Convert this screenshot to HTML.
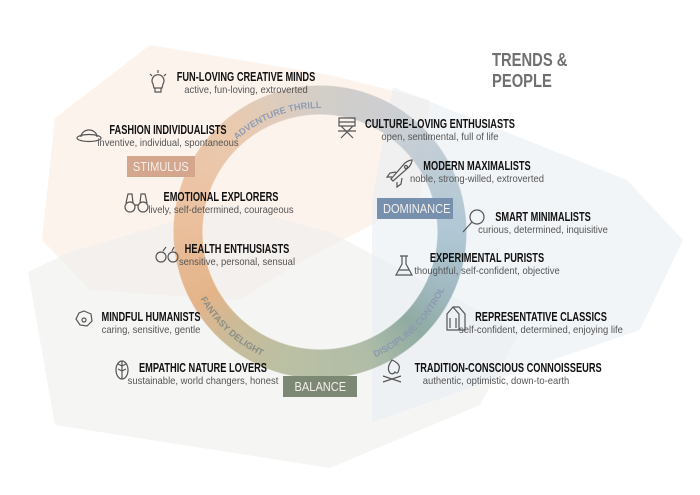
<!DOCTYPE html>
<html><head><meta charset="utf-8"><style>
*{margin:0;padding:0;box-sizing:border-box}
body{width:700px;height:495px;background:#fff;position:relative;overflow:hidden;font-family:"Liberation Sans",sans-serif}
.it{position:absolute;width:220px;text-align:center}
.t{font-weight:bold;font-size:12.5px;color:#111;line-height:13px;white-space:nowrap;transform:scaleX(0.74)}
.s{font-size:10.5px;color:#555;line-height:13px;white-space:nowrap;transform:scaleX(0.9)}
.box{position:absolute;color:#f4f0ec;font-size:13px;text-align:center;line-height:21px;height:21px}
.box span{display:inline-block;transform:scaleX(0.85)}
.ring{position:absolute;left:173px;top:85px;width:294px;height:294px;border-radius:50%;
background:conic-gradient(from 0deg,#cfcac4 0deg,#c5ccd2 40deg,#aac3d2 90deg,#98b3bc 115deg,#86a49a 135deg,#aab8a0 160deg,#b5bb9c 195deg,#c7b58f 222deg,#e3ae7e 240deg,#ebbf9c 285deg,#e8c6a9 320deg,#cfcac4 360deg);
-webkit-mask:radial-gradient(circle,transparent 117px,#000 118px,#000 146px,transparent 147px);mask:radial-gradient(circle,transparent 117px,#000 118px,#000 146px,transparent 147px);opacity:0.9}
</style></head><body>
<svg style="position:absolute;left:0;top:0" width="700" height="495">
<polygon points="150,45 330,75 430,100 420,200 300,262 240,300 90,290 42,240 55,118" fill="#fcf0e9" opacity="0.8"/>
<polygon points="70,252 230,205 330,232 520,332 480,405 330,468 55,425 28,272" fill="#efefec" opacity="0.6"/>
<polygon points="393,87 627,180 683,240 640,330 372,422 372,200" fill="#e9eef4" opacity="0.6"/>
</svg>
<div class="ring"></div>
<svg style="position:absolute;left:0;top:0" width="700" height="495" font-family="Liberation Sans, sans-serif" font-size="9.2" font-weight="bold">
<defs>
<path id="a1" d="M 225 152.3 A 124 124 0 0 1 362.4 115.5"/>
<path id="a2" d="M 191.3 278.9 A 137 137 0 0 0 296.2 366.9"/>
<path id="a3" d="M 343.8 366.9 A 137 137 0 0 0 452.3 267.5"/>
</defs>
<text fill="#8e9cb4"><textPath href="#a1" startOffset="17">ADVENTURE THRILL</textPath></text>
<text fill="#8a8e86"><textPath href="#a2" startOffset="22">FANTASY DELIGHT</textPath></text>
<text fill="#8c9ab0"><textPath href="#a3" startOffset="33">DISCIPLINE CONTROL</textPath></text>
<g fill="none" stroke="#555" stroke-width="1.2">
<path d="M153 84 a6 6 0 1 1 10 0 l-1 4 h-8 z M155 88 v4 h6 v-4"/><path d="M158 70 v3 M150 74 l2 2 M166 74 l-2 2"/>
<ellipse cx="89" cy="138" rx="12" ry="3.5"/><path d="M81 137 a8 7 0 0 1 16 0"/>
<circle cx="130" cy="207" r="5"/><circle cx="143" cy="207" r="5"/><path d="M126 203 l2 -9 h4 l1 9 M140 203 l1 -9 h4 l2 9 M134 205 h5"/>
<circle cx="161" cy="257" r="5"/><circle cx="173" cy="257" r="5"/><path d="M163 251 l3 -4 M172 251 l2 -4"/>
<path d="M339 118 h16 v8 h-16 z M339 122 h16 M341 126 l12 12 M353 126 l-12 12 M338 131 h18"/>
<path d="M391 179 l14 -16 q4 -3 7 -3 q0 3 -3 7 l-16 14 z M396 172 l-6 1 -3 4 5 0 M402 178 l-1 6 -4 3 0 -5"/><circle cx="406" cy="167" r="1.5"/>
<circle cx="477" cy="217" r="7"/><path d="M472 222 l-9 10"/>
<path d="M402 256 v8 l-6 11 h16 l-6 -11 v-8 M400 256 h8 M399 270 h10"/>
<path d="M447 330 v-16 l6 -7 6 7 v16 z M453 307 l6 0 6 7 v16 h-6 M450 318 v10 M456 318 v10"/>
<path d="M392 360 q-6 8 -2 13 q3 2 5 -1 q3 3 4 -3 q2 -5 -7 -9 z M383 382 l18 -6 M383 376 l18 6"/>
<ellipse cx="122" cy="370" rx="6" ry="9"/><path d="M122 361 v18 M122 366 l-4 -2 M122 366 l4 -2 M122 371 l-4 -2 M122 371 l4 -2"/>
<path d="M84 311 l7 3 1 7 -5 5 -7 -1 -4 -6 3 -6 z"/><circle cx="84" cy="320" r="2"/>
</g>
</svg>
<div style="position:absolute;left:492px;top:50px;font-weight:bold;font-size:18px;line-height:21px;color:#707070;transform:scaleX(0.82);transform-origin:left top">TRENDS &amp;<br>PEOPLE</div>
<div class="box" style="left:127px;top:156px;width:68px;background:#d3a68d"><span>STIMULUS</span></div>
<div class="box" style="left:377px;top:198px;width:76px;background:#7790ae"><span>DOMINANCE</span></div>
<div class="box" style="left:283px;top:376px;width:74px;background:#7d8874"><span>BALANCE</span></div>

<div class="it" style="left:136px;top:71px"><div class="t">FUN-LOVING CREATIVE MINDS</div><div class="s">active, fun-loving, extroverted</div></div>
<div class="it" style="left:58px;top:124px"><div class="t">FASHION INDIVIDUALISTS</div><div class="s">inventive, individual, spontaneous</div></div>
<div class="it" style="left:111px;top:191px"><div class="t">EMOTIONAL EXPLORERS</div><div class="s">lively, self-determined, courageous</div></div>
<div class="it" style="left:127px;top:243px"><div class="t">HEALTH ENTHUSIASTS</div><div class="s">sensitive, personal, sensual</div></div>
<div class="it" style="left:330px;top:118px"><div class="t">CULTURE-LOVING ENTHUSIASTS</div><div class="s">open, sentimental, full of life</div></div>
<div class="it" style="left:367px;top:160px"><div class="t">MODERN MAXIMALISTS</div><div class="s">noble, strong-willed, extroverted</div></div>
<div class="it" style="left:433px;top:211px"><div class="t">SMART MINIMALISTS</div><div class="s">curious, determined, inquisitive</div></div>
<div class="it" style="left:377px;top:252px"><div class="t">EXPERIMENTAL PURISTS</div><div class="s">thoughtful, self-confident, objective</div></div>
<div class="it" style="left:41px;top:311px"><div class="t">MINDFUL HUMANISTS</div><div class="s">caring, sensitive, gentle</div></div>
<div class="it" style="left:431px;top:311px"><div class="t">REPRESENTATIVE CLASSICS</div><div class="s">self-confident, determined, enjoying life</div></div>
<div class="it" style="left:93px;top:362px"><div class="t">EMPATHIC NATURE LOVERS</div><div class="s">sustainable, world changers, honest</div></div>
<div class="it" style="left:386px;top:362px"><div class="t">TRADITION-CONSCIOUS CONNOISSEURS</div><div class="s">authentic, optimistic, down-to-earth</div></div>
</body></html>
